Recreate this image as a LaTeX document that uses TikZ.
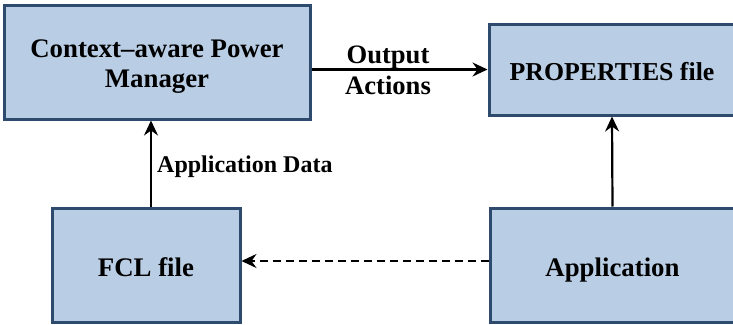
\documentclass[tikz,border=0pt]{standalone}
\usepackage{fontspec}
\setmainfont{Liberation Serif}
\usetikzlibrary{arrows.meta}
\definecolor{boxfill}{HTML}{B9CDE4}
\definecolor{boxline}{HTML}{2E4A6C}
\tikzset{
  box/.style={draw=boxline, fill=boxfill, line width=3pt, inner sep=0pt,
    align=center, font=\fontsize{26.8}{30}\selectfont\bfseries,
    text height=22pt, text depth=0pt},
  arr/.style={line width=2.2pt, -{Stealth[length=15pt,width=14pt,inset=5pt]}},
  dasharr/.style={arr, dash pattern=on 8pt off 5pt},
  lbl/.style={font=\fontsize{26.6}{31}\selectfont\bfseries, align=center, inner sep=0pt},
  smalllbl/.style={font=\fontsize{24}{28}\selectfont\bfseries, inner sep=0pt}
}
\begin{document}
\begin{tikzpicture}[x=1pt,y=-1pt]
\useasboundingbox (0,0) rectangle (733,324);
\node[box, minimum width=306pt, minimum height=114pt, text height=10pt, text depth=20pt] (cpm) at (157,62)
  {\begin{tabular}[t]{@{}c@{}}Context--aware Power\\Manager\end{tabular}};
\node[box, minimum width=246pt, minimum height=91pt, text height=21pt,
  font=\fontsize{25.8}{30}\selectfont\bfseries] (prop) at (612,69.5) {PROPERTIES file};
\node[box, minimum width=188pt, minimum height=114pt] (fcl) at (146,265) {FCL file};
\node[box, minimum width=245pt, minimum height=114pt] (app) at (612.5,265) {Application};
\draw[arr] (cpm.east |- prop.west) -- (prop.west);
\node[lbl] (oa) at (388,70) {Output\\Actions};
\draw[arr] ([xshift=5pt]fcl.north) -- ([xshift=5pt]fcl.north |- cpm.south);
\node[smalllbl, anchor=west] (ad) at (157,167) {Application Data};
\draw[arr] (app.north) -- (prop.south);
\draw[dasharr] ([yshift=4pt]app.west) -- ([yshift=4pt]fcl.east);
\end{tikzpicture}
\end{document}
